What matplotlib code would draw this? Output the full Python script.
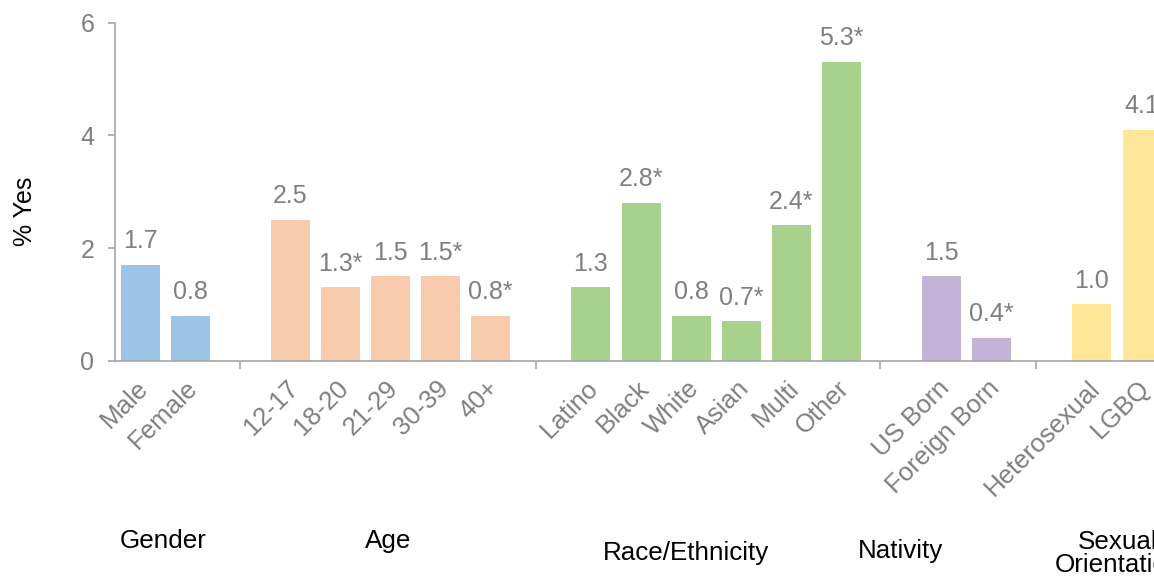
import numpy as np
import matplotlib.pyplot as plt
from matplotlib.transforms import ScaledTranslation

plt.rcParams['font.family'] = ['Liberation Sans', 'DejaVu Sans']

# data
categories = ["Male", "Female",
              "12-17", "18-20", "21-29", "30-39", "40+",
              "Latino", "Black", "White", "Asian", "Multi", "Other",
              "US Born", "Foreign Born",
              "Heterosexual", "LGBQ"]
values = [1.7, 0.8,
          2.5, 1.3, 1.5, 1.5, 0.8,
          1.3, 2.8, 0.8, 0.7, 2.4, 5.3,
          1.5, 0.4,
          1.0, 4.1]
labels = ["1.7", "0.8",
          "2.5", "1.3*", "1.5", "1.5*", "0.8*",
          "1.3", "2.8*", "0.8", "0.7*", "2.4*", "5.3*",
          "1.5", "0.4*",
          "1.0", "4.1"]
groups = ["Gender", "Age", "Race/Ethnicity", "Nativity", "Sexual\nOrientation"]
group_sizes = [2, 5, 6, 2, 2]
group_colors = ["#9DC3E6", "#F8CBAD", "#A9D18E", "#C3B3D7", "#FFE699"]

# layout (bar slots, with one empty slot between groups)
positions = []
colors = []
start = 0
for n, c in zip(group_sizes, group_colors):
    positions += list(range(start, start + n))
    colors += [c] * n
    start += n + 1
separators = [2.0, 7.91, 14.77, 17.89]
# group label centre x / baseline of last line, in pixels
group_label_px = [(163, 548), (388, 548), (686, 560), (901, 558), (1118, 572)]

W, H = 1154, 584
fig = plt.figure(figsize=(W / 100, H / 100), dpi=100)
ax = fig.add_axes([115 / W, (H - 360.7) / H, 21.5 * 50.1 / W, 338 / H])

gray = "#7F7F7F"
line = "#A6A6A6"

ax.bar(positions, values, width=0.78, color=colors)
for x, v, t in zip(positions, values, labels):
    ax.annotate(t, (x, v), xytext=(0, 12), textcoords="offset points",
                ha="center", va="baseline", color=gray, fontsize=18,
                annotation_clip=False)

ax.set_xlim(-0.5, 21)
ax.set_ylim(0, 6)
ax.set_yticks([0, 2, 4, 6])
ax.set_ylabel("% Yes", fontsize=18)
ax.yaxis.set_label_coords(-0.0724, 0.443)

for s in ["top", "right"]:
    ax.spines[s].set_visible(False)
for s in ["left", "bottom"]:
    ax.spines[s].set_color(line)
    ax.spines[s].set_linewidth(1.2)

ax.tick_params(axis="y", colors=line, labelcolor=gray, labelsize=18,
               length=5, width=1.2, pad=10)
ax.set_xticks(positions)
ax.set_xticklabels(categories, rotation=45, ha="right", va="center",
                   rotation_mode="anchor", color=gray, fontsize=18.5)
ax.tick_params(axis="x", which="major", length=0, pad=17)
ax.set_xticks(separators, minor=True)
ax.tick_params(axis="x", which="minor", length=6, width=1.2, color=line)

shift = ScaledTranslation(4 / 100, 0, fig.dpi_scale_trans)
for lab in ax.get_xticklabels():
    lab.set_transform(lab.get_transform() + shift)

for g, (px, py) in zip(groups, group_label_px):
    fig.text(px / W, 1 - py / H, g, ha="center", va="baseline",
             fontsize=18.7, color="black", linespacing=0.95)

fig.savefig("out.png", dpi=100)
